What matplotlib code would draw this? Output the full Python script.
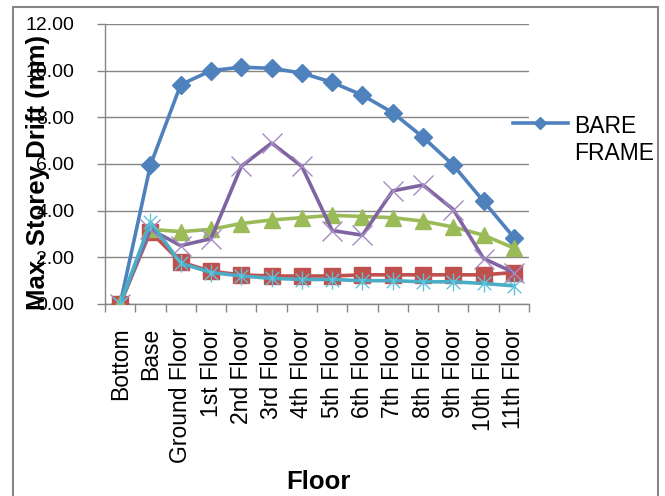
import matplotlib
matplotlib.use("Agg")
import matplotlib.pyplot as plt
from matplotlib.path import Path
from matplotlib.patches import Rectangle
from matplotlib.ticker import FixedLocator, FormatStrFormatter

# floors along the x axis
floors = ["Bottom", "Base", "Ground Floor", "1st Floor", "2nd Floor", "3rd Floor",
          "4th Floor", "5th Floor", "6th Floor", "7th Floor", "8th Floor",
          "9th Floor", "10th Floor", "11th Floor"]

# max storey drift (mm)
bare_frame = [0.0, 5.95, 9.4, 10.0, 10.15, 10.1, 9.9, 9.5, 8.95, 8.2, 7.15, 5.95, 4.4, 2.85]
series_red = [0.0, 3.1, 1.8, 1.4, 1.25, 1.2, 1.2, 1.2, 1.25, 1.25, 1.25, 1.25, 1.25, 1.35]
series_green = [0.0, 3.2, 3.1, 3.2, 3.45, 3.6, 3.7, 3.8, 3.75, 3.7, 3.55, 3.3, 2.95, 2.4]
series_purple = [0.0, 3.2, 2.5, 2.8, 5.9, 6.9, 5.9, 3.15, 2.95, 4.85, 5.1, 4.05, 1.95, 1.35]
series_cyan = [0.0, 3.5, 1.75, 1.35, 1.2, 1.1, 1.05, 1.05, 1.0, 1.0, 0.95, 0.95, 0.88, 0.78]

y_ticks = [0, 2, 4, 6, 8, 10, 12]

plt.rcParams['font.family'] = ['Liberation Sans', 'DejaVu Sans']

# Excel style asterisk: an x with a vertical bar
star = Path([(0, -1), (0, 1), (-0.75, -0.75), (0.75, 0.75), (-0.75, 0.75), (0.75, -0.75)],
            [Path.MOVETO, Path.LINETO, Path.MOVETO, Path.LINETO, Path.MOVETO, Path.LINETO])

W, H = 665, 496
fig = plt.figure(figsize=(W / 100, H / 100), dpi=100)
ax = fig.add_axes([105 / W, 1 - 304 / H, (529 - 105) / W, (304 - 24) / H])

x = range(len(floors))
lw = 2.6
blue, = ax.plot(x, bare_frame, color='#4F81BD', lw=lw, marker='D', ms=9,
                label='BARE\nFRAME', zorder=3)
ax.plot(x, series_red, color='#C0504D', lw=lw, marker='s', ms=12, zorder=3)
ax.plot(x, series_green, color='#9BBB59', lw=lw, marker='^', ms=11, zorder=3)
ax.plot(x, series_purple, color='#8064A2', lw=lw, marker='x', ms=14, mew=1,
        mec='#A48CC4', zorder=3)
ax.plot(x, series_cyan, color='#4BACC6', lw=lw, marker=star, ms=13, mew=1,
        mec='#5CC4DC', zorder=3)

ax.set_xlim(-0.5, len(floors) - 0.5)
ax.set_ylim(0, 12)
ax.set_yticks(y_ticks)
ax.yaxis.set_major_formatter(FormatStrFormatter('%.2f'))
ax.set_xticks(list(x))
ax.set_xticklabels(floors, rotation=90, fontsize=16.5)
ax.xaxis.set_minor_locator(FixedLocator([i - 0.5 for i in range(len(floors) + 1)]))
ax.tick_params(axis='x', which='major', length=0, pad=17)
ax.tick_params(axis='x', which='minor', length=6, color='#868686', width=1)
ax.tick_params(axis='y', length=6, color='#868686', width=1, pad=16, labelsize=14)

ax.grid(axis='y', color='#868686', lw=1)
ax.set_axisbelow(True)
for side in ['top', 'right']:
    ax.spines[side].set_visible(False)
for side in ['left', 'bottom']:
    ax.spines[side].set_color('#868686')
    ax.spines[side].set_linewidth(1)

fig.text(38 / W, 1 - 172 / H, 'Max. Storey Drift (mm)', rotation=90,
         ha='center', va='center', fontsize=18.5, fontweight='bold')
fig.text(318 / W, 1 - 482 / H, 'Floor', ha='center', va='center',
         fontsize=18.5, fontweight='bold')

leg = ax.legend(handles=[blue], loc='center left', bbox_to_anchor=(492 / W, 1 - 140 / H),
                bbox_transform=fig.transFigure, frameon=False, fontsize=16.5,
                handlelength=2.4, handletextpad=0.3, markerscale=0.7)
# put the legend line next to the first line of the label, like Excel
for column in leg._legend_handle_box.get_children():
    for entry in column.get_children():
        entry.align = 'top'

# chart area border
fig.add_artist(Rectangle((12.5 / W, -0.05), (658 - 12.5) / W, 1.05 - 6.5 / H,
                         transform=fig.transFigure, fill=False,
                         ec='#868686', lw=1.5))

fig.savefig('out.png', dpi=100)
